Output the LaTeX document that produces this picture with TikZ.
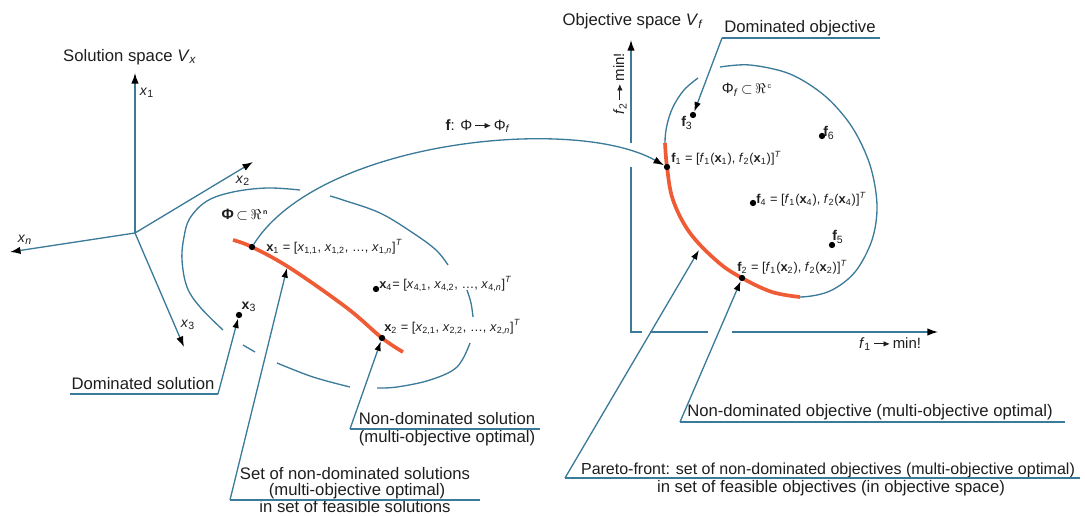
\documentclass[tikz,border=0pt]{standalone}
\usepackage{fontspec}
\setmainfont{Liberation Sans}
\usetikzlibrary{arrows.meta}
\definecolor{lblue}{HTML}{3B7A98}
\definecolor{pred}{HTML}{EE5B35}
\definecolor{txt}{HTML}{1E1E1E}
\newcommand{\mapar}{\tikz[baseline=-0.55ex]\draw[draw=txt,line width=0.45pt,-{Latex[length=3.6pt,width=3.2pt,color=txt]}] (0pt,0pt)--(9pt,0pt);}
\begin{document}
\begin{tikzpicture}[x=0.02cm, y=-0.02cm,
  ax/.style={draw=lblue, line width=0.75pt},
  axarr/.style={ax, -{Latex[length=6pt,width=4.2pt,color=black]}},
  lead/.style={ax, -{Latex[length=5.5pt,width=3.8pt,color=black]}},
  front/.style={draw=pred, line width=2.1pt},
  dot/.style={circle, fill=black, inner sep=0pt, minimum size=3.6pt},
  lab/.style={font=\fontsize{9.5}{11.5}\selectfont, text=txt, inner sep=0pt},
  sm/.style={font=\fontsize{7.3}{9}\selectfont, text=txt, inner sep=0pt}]
\useasboundingbox (0,0) rectangle (1085,516);

% ---------------- solution space ----------------
\node[lab] (tsol) at (130,57) {Solution space \textit{V}\textsubscript{\textit{x}}};
\coordinate (O) at (135,233);
\coordinate (X1) at (135,73);
\coordinate (X2) at (253,162);
\coordinate (Xn) at (10,252);
\coordinate (X3) at (184,347);
\draw[axarr] (O) -- (X1);
\draw[axarr] (O) -- (X2);
\draw[axarr] (O) -- (Xn);
\draw[axarr] (O) -- (X3);
\node[sm, font=\fontsize{8}{9.5}\selectfont] (lx1) at (147,93) {\textit{x}\textsubscript{1}};
\node[sm, font=\fontsize{8}{9.5}\selectfont] (lx2) at (243,181) {\textit{x}\textsubscript{2}};
\node[sm, font=\fontsize{8}{9.5}\selectfont] (lx3) at (188,325) {\textit{x}\textsubscript{3}};
\node[sm, font=\fontsize{8}{9.5}\selectfont] (lxn) at (25,240) {\textit{x}\textsubscript{\textit{n}}};

% feasible set boundary (with gaps)
\draw[ax] plot[smooth, tension=0.6] coordinates {(223,330) (200,307) (187,287) (182,260) (184,237) (190,218) (207,201) (233,192) (267,188) (300,190)};
\draw[ax] plot[smooth, tension=0.6] coordinates {(330,196) (343,200) (380,213) (413,233) (436,250) (448,265)};
\draw[ax] plot[smooth, tension=0.6] coordinates {(467,290) (471,303) (473,317)};
\draw[ax] plot[smooth, tension=0.6] coordinates {(470,343) (457,367) (430,380) (397,387) (377,388)};
\draw[ax] plot[smooth, tension=0.6] coordinates {(350,387) (313,377) (277,363)};
\draw[ax] (243,345) -- (255,352);
\node[sm, font=\fontsize{8.5}{10}\selectfont\bfseries] (phi) at (245,215) {Φ\,$\subset$\,$\Re$\textsuperscript{\,\fontsize{4}{5}\selectfont n}};

% Pareto set in solution space
\draw[front] plot[smooth, tension=0.6] coordinates {(233,240) (252,247) (290,268) (347,308) (382,338) (403,352)};
\node[dot] (x1) at (252,247) {};
\node[dot] (x2) at (382,338) {};
\node[dot] (x3) at (239,315) {};
\node[dot] (x4) at (376,289) {};
\coordinate (p1) at (287,268);
\node[sm, anchor=west] (lbx1) at (266,247) {\textbf{x}\textsubscript{1} = [\textit{x}\textsubscript{1,1}, \textit{x}\textsubscript{1,2}, …, \textit{x}\textsubscript{1,\textit{n}}]\textsuperscript{\textit{T}}};
\node[sm, anchor=west] (lbx4) at (379,284) {\textbf{x}\textsubscript{4}= [\textit{x}\textsubscript{4,1}, \textit{x}\textsubscript{4,2}, …, \textit{x}\textsubscript{4,\textit{n}}]\textsuperscript{\textit{T}}};
\node[sm, anchor=west] (lbx2) at (384,327) {\textbf{x}\textsubscript{2} = [\textit{x}\textsubscript{2,1}, \textit{x}\textsubscript{2,2}, …, \textit{x}\textsubscript{2,\textit{n}}]\textsuperscript{\textit{T}}};
\node[sm, font=\fontsize{8}{9.5}\selectfont] (lbx3) at (249,307) {\textbf{x}\textsubscript{3}};

% labels with leaders (solution space)
\node[lab] (ds) at (143,384) {Dominated solution};
\coordinate (ds0) at (70,394); \coordinate (ds1) at (218,394);
\draw[ax] (ds0) -- (ds1);
\draw[lead] (ds1) -- (x3);

\node[lab] (nds1) at (447,419) {Non-dominated solution};
\node[lab] (nds2) at (447,438) {(multi-objective optimal)};
\coordinate (nds0) at (350,429); \coordinate (ndse) at (540,429);
\draw[ax] (nds0) -- (ndse);
\draw[lead] (nds0) -- (x2);

\node[lab] (set1) at (355,474) {Set of non-dominated solutions};
\node[lab] (set2) at (357,491) {(multi-objective optimal)};
\node[lab] (set3) at (355,507) {in set of feasible solutions};
\coordinate (set0) at (230,500); \coordinate (sete) at (480,500);
\draw[ax] (set0) -- (sete);
\draw[lead] (set0) -- (p1);

% ---------------- objective space ----------------
\node[lab] (tobj) at (633,21) {Objective space \textit{V}\textsubscript{\textit{f}}};
\coordinate (F0) at (631,332);
\coordinate (F2) at (631,40);
\coordinate (F1) at (938,332);
\draw[ax] (631,167) -- (F0) -- (642,332);
\draw[ax] (650,332) -- (708,332);
\draw[axarr] (732,332) -- (F1);
\draw[axarr] (631,143) -- (F2);
\node[sm, font=\fontsize{8.5}{10}\selectfont] (lf1) at (890,344) {\textit{f}\textsubscript{1}\,\mapar\,min!};
\node[sm, font=\fontsize{8.5}{10}\selectfont, rotate=90] (lf2) at (620,84) {\textit{f}\textsubscript{2}\,\mapar\,min!};

% feasible objective boundary
\draw[ax] plot[smooth, tension=0.6] coordinates {(698,78) (684,90) (673,107) (667,125) (665,143) (667,167)};
\draw[ax] plot[smooth, tension=0.55] coordinates {(772,292) (800,297) (830,291) (855,272) (872,240) (877,205) (870,165) (852,127) (825,96) (790,74) (750,65) (720,67)};
\draw[front] plot[smooth, tension=0.6] coordinates {(665,143) (667,167) (673,200) (690,233) (718,262) (742,278) (772,292) (800,297)};
\node[sm, font=\fontsize{8.5}{10}\selectfont] (phif) at (747,90) {Φ\textsubscript{\textit{f}}\,$\subset$\,$\Re$\textsuperscript{\,\fontsize{4}{5}\selectfont c}};

\node[dot] (f1) at (667,167) {};
\node[dot] (f2) at (742,278) {};
\node[dot] (f3) at (693,115) {};
\node[dot] (f4) at (753,203) {};
\node[dot] (f5) at (832,245) {};
\node[dot] (f6) at (822,136) {};
\coordinate (p2) at (699,250);
\node[sm, anchor=west] (lbf1) at (671,158) {\textbf{f}\textsubscript{1} = [\textit{f}\textsubscript{1}(\textbf{x}\textsubscript{1}), \textit{f}\textsubscript{2}(\textbf{x}\textsubscript{1})]\textsuperscript{\textit{T}}};
\node[sm, anchor=west] (lbf4) at (756,199) {\textbf{f}\textsubscript{4} = [\textit{f}\textsubscript{1}(\textbf{x}\textsubscript{4}), \textit{f}\textsubscript{2}(\textbf{x}\textsubscript{4})]\textsuperscript{\textit{T}}};
\node[sm, anchor=west] (lbf2) at (737,267) {\textbf{f}\textsubscript{2} = [\textit{f}\textsubscript{1}(\textbf{x}\textsubscript{2}), \textit{f}\textsubscript{2}(\textbf{x}\textsubscript{2})]\textsuperscript{\textit{T}}};
\node[sm, font=\fontsize{8}{9.5}\selectfont] (lbf3) at (687,123) {\textbf{f}\textsubscript{3}};
\node[sm, font=\fontsize{8}{9.5}\selectfont] (lbf5) at (838,237) {\textbf{f}\textsubscript{5}};
\node[sm, font=\fontsize{8}{9.5}\selectfont] (lbf6) at (829,133) {\textbf{f}\textsubscript{6}};

% mapping
\draw[ax, -{Latex[length=6pt,width=4.2pt,color=black]}] (x1) .. controls (320,140) and (575,115) .. (f1);
\node[sm, font=\fontsize{8.5}{10}\selectfont] (lmap) at (478,126) {\textbf{f}: Φ\,\mapar\,Φ\textsubscript{\textit{f}}};

% labels with leaders (objective space)
\node[lab] (do) at (800,28) {Dominated objective};
\coordinate (do0) at (722,38); \coordinate (doe) at (880,38);
\draw[ax] (do0) -- (doe);
\draw[lead] (do0) -- (f3);

\node[lab] (ndo) at (870,412) {Non-dominated objective (multi-objective optimal)};
\coordinate (ndo0) at (680,422); \coordinate (ndoe) at (1065,422);
\draw[ax] (ndo0) -- (ndoe);
\draw[lead] (ndo0) -- (f2);

\node[lab, font=\fontsize{9.1}{11}\selectfont] (pf1) at (828,470) {Pareto-front: set of non-dominated objectives (multi-objective optimal)};
\node[lab] (pf2) at (831,488) {in set of feasible objectives (in objective space)};
\coordinate (pf0) at (565,478); \coordinate (pfe) at (1080,478);
\draw[ax] (pf0) -- (pfe);
\draw[lead] (pf0) -- (p2);
\end{tikzpicture}
\end{document}
